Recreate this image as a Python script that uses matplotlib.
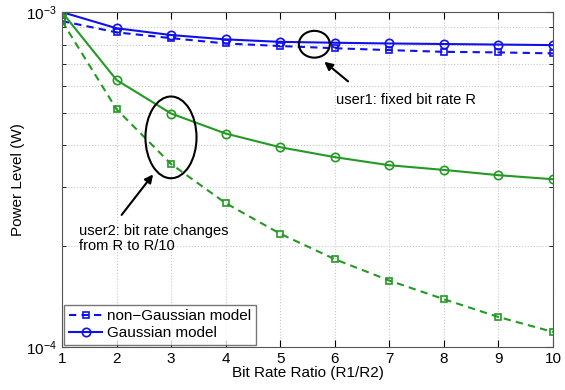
import numpy as np
import matplotlib
matplotlib.use('Agg')
from matplotlib import pyplot as plt
from matplotlib.patches import Ellipse
from matplotlib.ticker import LogLocator, NullFormatter, FixedLocator

plt.rcParams['font.family'] = ['Liberation Sans', 'DejaVu Sans']

ratio = [1, 2, 3, 4, 5, 6, 7, 8, 9, 10]

# user1 (fixed bit rate R)
u1_gauss = [1.0e-3, 8.95e-4, 8.54e-4, 8.29e-4, 8.15e-4, 8.1e-4, 8.06e-4, 8.03e-4, 8.0e-4, 7.97e-4]
u1_nongauss = [9.4e-4, 8.7e-4, 8.36e-4, 8.06e-4, 7.92e-4, 7.8e-4, 7.7e-4, 7.61e-4, 7.58e-4, 7.53e-4]

# user2 (bit rate changes from R to R/10)
u2_gauss = [1.0e-3, 6.27e-4, 4.98e-4, 4.34e-4, 3.95e-4, 3.69e-4, 3.49e-4, 3.38e-4, 3.26e-4, 3.17e-4]
u2_nongauss = [9.4e-4, 5.13e-4, 3.52e-4, 2.69e-4, 2.18e-4, 1.83e-4, 1.58e-4, 1.39e-4, 1.23e-4, 1.11e-4]

blue = '#1010ee'
green = '#239a23'
dash = (3.5, 2.5)

fig = plt.figure(figsize=(5.65, 3.9), dpi=100)
ax = fig.add_axes([0.1097, 0.110, 0.869, 0.859])

ax.semilogy(ratio, u1_nongauss, '--s', color=blue, lw=1.5, ms=5, mfc='none', mew=1.2,
            dashes=dash, label='non\u2212Gaussian model')
ax.semilogy(ratio, u1_gauss, '-o', color=blue, lw=1.5, ms=6, mfc='none', mew=1.2,
            label='Gaussian model')
ax.semilogy(ratio, u2_nongauss, '--s', color=green, lw=1.5, ms=5, mfc='none', mew=1.2,
            dashes=dash)
ax.semilogy(ratio, u2_gauss, '-o', color=green, lw=1.5, ms=6, mfc='none', mew=1.2)

ax.set_xlim(1, 10)
ax.set_ylim(1e-4, 1e-3)
ax.xaxis.set_major_locator(FixedLocator(ratio))
ax.yaxis.set_major_locator(LogLocator(base=10))
ax.yaxis.set_minor_locator(LogLocator(base=10, subs=np.arange(2, 10)))
ax.yaxis.set_minor_formatter(NullFormatter())
ax.tick_params(which='both', direction='in', top=True, right=True, labelsize=11)
ax.tick_params(which='major', length=5)
ax.tick_params(which='minor', length=3)
ax.grid(True, which='major', axis='x', ls=':', color='#c8c8c8', lw=0.8)
ax.grid(True, which='both', axis='y', ls=':', color='#c8c8c8', lw=0.8)
for s in ax.spines.values():
    s.set_color('#555555')

ax.set_xlabel('Bit Rate Ratio (R1/R2)', fontsize=11, labelpad=0)
ax.set_ylabel('Power Level (W)', fontsize=11, labelpad=1)

leg = ax.legend(loc='lower left', fontsize=11, borderaxespad=0.15, handlelength=2.2,
                handletextpad=0.3, borderpad=0.3, labelspacing=0.2, fancybox=False)
leg.get_frame().set_edgecolor('#555555')
leg.get_frame().set_linewidth(1.0)

# annotations
ax.add_patch(Ellipse((0.514, 0.904), 0.063, 0.080, transform=ax.transAxes,
                     fill=False, ec='black', lw=1.5, zorder=5))
ax.annotate('', xy=(0.530, 0.857), xytext=(0.587, 0.788), xycoords='axes fraction',
            arrowprops=dict(arrowstyle='-|>', color='black', lw=1.5, mutation_scale=12))
ax.text(0.558, 0.737, 'user1: fixed bit rate R', transform=ax.transAxes,
        fontsize=10.5, va='center', ha='left')

ax.add_patch(Ellipse((0.222, 0.626), 0.104, 0.244, transform=ax.transAxes,
                     fill=False, ec='black', lw=1.5, zorder=5))
ax.annotate('', xy=(0.189, 0.522), xytext=(0.118, 0.388), xycoords='axes fraction',
            arrowprops=dict(arrowstyle='-|>', color='black', lw=1.5, mutation_scale=12))
ax.text(0.035, 0.324, 'user2: bit rate changes\nfrom R to R/10', transform=ax.transAxes,
        fontsize=10.5, va='center', ha='left', linespacing=1.1)

plt.savefig('out.png', dpi=100)
